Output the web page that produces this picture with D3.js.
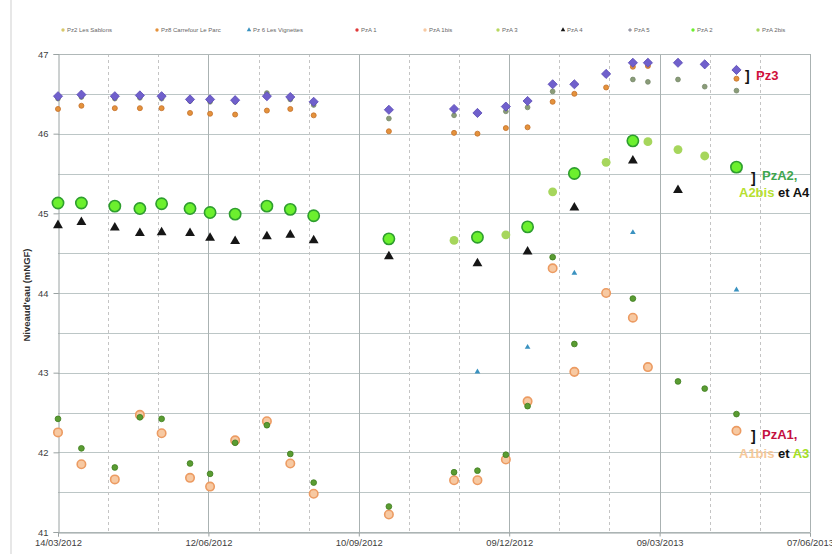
<!DOCTYPE html>
<html>
<head>
<meta charset="utf-8">
<script src="https://cdn.jsdelivr.net/npm/d3@7/dist/d3.min.js"></script>
<style>
  html, body { margin: 0; padding: 0; background: #fff; }
  svg { display: block; }
</style>
</head>
<body>
<div id="chart"></div>
<script>
// Survey dates (piezometer readings)
const surveyDates = [
  "2012-03-14", "2012-03-28", "2012-04-17", "2012-05-02", "2012-05-15", "2012-06-01",
  "2012-06-13", "2012-06-28", "2012-07-17", "2012-07-31", "2012-08-14",
  "2012-09-28", "2012-11-06", "2012-11-20", "2012-12-07", "2012-12-20",
  "2013-01-04", "2013-01-17", "2013-02-05", "2013-02-21", "2013-03-02",
  "2013-03-20", "2013-04-05", "2013-04-24"
];

// Water levels (m NGF), one value per survey date, null = no reading
const pz2LesSablons = [46.44, 46.46, 46.44, 46.45, 46.44, 46.41, 46.40, 46.40, 46.51, 46.43, 46.36,
  46.19, 46.23, null, 46.28, 46.33, 46.53, null, null, 46.68, 46.65, 46.68, 46.59, 46.54];
const pz8CarrefourLeParc = [46.31, 46.35, 46.32, 46.32, 46.32, 46.26, 46.25, 46.24, 46.29, 46.31, 46.23,
  46.03, 46.01, 46.00, 46.07, 46.08, 46.40, 46.50, 46.58, 46.84, 46.85, null, null, 46.69];
const pz6LesVignettes = [null, null, null, null, null, null, null, null, null, null, null,
  null, null, 43.01, null, 43.32, null, 44.25, null, 44.76, null, null, null, 44.04];
const pzA1 = [];
const pzA1bis = [42.25, 41.85, 41.66, 42.47, 42.24, 41.68, 41.57, 42.15, 42.39, 41.86, 41.48,
  41.22, 41.65, 41.65, 41.91, 42.64, 44.31, 43.01, 44.00, 43.69, 43.07, null, null, 42.27];
const pzA3 = [42.42, 42.05, 41.81, 42.44, 42.42, 41.86, 41.73, 42.12, 42.34, 41.98, 41.62,
  41.32, 41.75, 41.77, 41.97, 42.58, 44.45, 43.36, null, 43.93, null, 42.89, 42.80, 42.48];
const pzA4 = [44.85, 44.89, 44.82, 44.75, 44.76, 44.75, 44.69, 44.65, 44.71, 44.73, 44.66,
  44.46, null, 44.37, null, 44.52, null, 45.07, null, 45.66, null, 45.29, null, 45.55];
const pzA5 = [46.47, 46.49, 46.47, 46.48, 46.47, 46.43, 46.43, 46.42, 46.47, 46.46, 46.40,
  46.30, 46.31, 46.26, 46.34, 46.41, 46.62, 46.62, 46.75, 46.89, 46.89, 46.89, 46.87, 46.80];
const pzA2 = [45.13, 45.13, 45.09, 45.06, 45.12, 45.06, 45.01, 44.99, 45.09, 45.05, 44.97,
  44.68, null, 44.70, null, 44.83, null, 45.50, null, 45.91, null, null, null, 45.58];
const pzA2bis = [null, null, null, null, null, null, null, null, null, null, null,
  null, 44.66, null, 44.73, null, 45.27, null, 45.64, null, 45.90, 45.80, 45.72, null];

// Axis settings
const xStart = "2012-03-14";
const xEnd = "2013-06-07";
const yTicks = [41, 42, 43, 44, 45, 46, 47];

const W = 832, H = 554;
const plot = { left: 58, right: 810, top: 54, bottom: 532 };
const parse = d3.timeParse("%Y-%m-%d");
const fmt = d3.timeFormat("%d/%m/%Y");
const dates = surveyDates.map(parse);

const x = d3.scaleTime().domain([parse(xStart), parse(xEnd)]).range([plot.left, plot.right]);
const y = d3.scaleLinear().domain([41, 47]).range([plot.bottom, plot.top]);

const svg = d3.select("#chart").append("svg").attr("width", W).attr("height", H);
const FONT = "'Liberation Sans', Arial, sans-serif";

// Chart frame edge
svg.append("line").attr("x1", 11).attr("x2", 11).attr("y1", 0).attr("y2", H)
  .attr("stroke", "#cfcfcf").attr("stroke-width", 1);

// Gridlines
const grid = svg.append("g");
const halfSteps = d3.range(41, 47.01, 0.5);
grid.selectAll("line.h").data(halfSteps).join("line")
  .attr("x1", plot.left).attr("x2", plot.right)
  .attr("y1", d => Math.round(y(d)) + 0.5).attr("y2", d => Math.round(y(d)) + 0.5)
  .attr("stroke", "#bcc6c6").attr("stroke-width", 1);

const start = parse(xStart);
const minorDays = d3.range(30, 450, 30).filter(d => d % 90 !== 0).map(d => d3.timeDay.offset(start, d));
const majorDays = d3.range(0, 451, 90).map(d => d3.timeDay.offset(start, d));

grid.selectAll("line.vmin").data(minorDays).join("line")
  .attr("x1", d => Math.round(x(d)) + 0.5).attr("x2", d => Math.round(x(d)) + 0.5)
  .attr("y1", plot.top).attr("y2", plot.bottom)
  .attr("stroke", "#c4c4c4").attr("stroke-width", 1).attr("stroke-dasharray", "3,3");
grid.selectAll("line.vmaj").data(majorDays.slice(1)).join("line")
  .attr("x1", d => Math.round(x(d)) + 0.5).attr("x2", d => Math.round(x(d)) + 0.5)
  .attr("y1", plot.top).attr("y2", plot.bottom)
  .attr("stroke", "#aab2b2").attr("stroke-width", 1);

// Plot border top
svg.append("line").attr("x1", plot.left).attr("x2", plot.right)
  .attr("y1", plot.top + 0.5).attr("y2", plot.top + 0.5).attr("stroke", "#b0b8b8");

// Axes
const yAxis = d3.axisLeft(y).tickValues(yTicks).tickFormat(d3.format("d")).tickSize(5).tickPadding(5);
const gy = svg.append("g").attr("transform", `translate(${plot.left + 0.5},0)`).call(yAxis);
const xAxis = d3.axisBottom(x).tickValues(majorDays).tickFormat(fmt).tickSize(4).tickPadding(3);
const gx = svg.append("g").attr("transform", `translate(0,${plot.bottom + 0.5})`).call(xAxis);
[gx, gy].forEach(g => {
  g.select(".domain").attr("stroke", "#9aa2a2");
  g.selectAll(".tick line").attr("stroke", "#9aa2a2");
  g.selectAll(".tick text").attr("fill", "#404040").style("font-family", FONT).style("font-size", "9.4px");
});

// Y axis title
svg.append("text")
  .attr("transform", `translate(30,${(plot.top + plot.bottom) / 2 + 2}) rotate(-90)`)
  .attr("text-anchor", "middle")
  .style("font-family", FONT).style("font-size", "9.5px").style("font-weight", "bold")
  .attr("fill", "#303030")
  .text("Niveaud'eau (mNGF)");

// Square diamond marker (a square turned 45 degrees)
const squareDiamond = {
  draw(ctx, size) {
    const r = Math.sqrt(size / 2);
    ctx.moveTo(0, -r); ctx.lineTo(r, 0); ctx.lineTo(0, r); ctx.lineTo(-r, 0); ctx.closePath();
  }
};

// Series definitions
const series = [
  { name: "Pz2 Les Sablons", values: pz2LesSablons, shape: d3.symbolCircle, size: 18, fill: "#8a9c78", stroke: "#76886a", legendX: 63, legendFill: "#d8c86a" },
  { name: "Pz8 Carrefour Le Parc", values: pz8CarrefourLeParc, shape: d3.symbolCircle, size: 20, fill: "#e4923c", stroke: "#c4702a", legendX: 157 },
  { name: "Pz 6 Les Vignettes", values: pz6LesVignettes, shape: d3.symbolTriangle, size: 14, fill: "#3a92c0", stroke: "none", legendX: 249 },
  { name: "PzA 1", values: pzA1, shape: d3.symbolCircle, size: 14, fill: "#e03a3a", stroke: "none", legendX: 357 },
  { name: "PzA 1bis", values: pzA1bis, shape: d3.symbolCircle, size: 56, fill: "#f7c9a2", stroke: "#ec9b62", sw: 1.6, legendX: 425 },
  { name: "PzA 3", values: pzA3, shape: d3.symbolCircle, size: 26, fill: "#5a9c32", stroke: "#3e7c1e", legendX: 498, legendFill: "#b8d860" },
  { name: "PzA 4", values: pzA4, shape: d3.symbolTriangle, size: 42, fill: "#161616", stroke: "none", legendX: 563 },
  { name: "PzA 5", values: pzA5, shape: squareDiamond, size: 42, fill: "#7060cc", stroke: "#5848b4", legendX: 630, legendFill: "#9a9aa8" },
  { name: "PzA 2", values: pzA2, shape: d3.symbolCircle, size: 100, fill: "#6cf02e", stroke: "#2e9e2e", sw: 1.6, legendX: 693 },
  { name: "PzA 2bis", values: pzA2bis, shape: d3.symbolCircle, size: 62, fill: "#a6d65c", stroke: "none", legendX: 758 }
];

// Drawing order: first drawn lies underneath
const drawOrder = ["Pz 6 Les Vignettes", "PzA 1bis", "PzA 3", "PzA 4", "PzA 2bis", "PzA 2",
  "PzA 1", "Pz2 Les Sablons", "Pz8 Carrefour Le Parc", "PzA 5"];

const marks = svg.append("g");
drawOrder.forEach(n => {
  const s = series.find(d => d.name === n);
  const pts = s.values.map((v, i) => ({ date: dates[i], value: v })).filter(p => p.value != null);
  marks.append("g").selectAll("path").data(pts).join("path")
    .attr("d", d3.symbol().type(s.shape).size(s.size))
    .attr("transform", d => `translate(${x(d.date)},${y(d.value)})`)
    .attr("fill", s.fill)
    .attr("stroke", s.stroke)
    .attr("stroke-width", s.sw || 0.8);
});

// Legend
const legend = svg.append("g");
series.forEach(s => {
  legend.append("path")
    .attr("d", d3.symbol().type(s.shape).size(9))
    .attr("transform", `translate(${s.legendX},30)`)
    .attr("fill", s.legendFill || s.fill);
  legend.append("text")
    .attr("x", s.legendX + 4).attr("y", 32)
    .style("font-family", FONT).style("font-size", "6px")
    .attr("fill", "#666")
    .text(s.name);
});

// Group annotations
function note(xp, yp, parts, size) {
  const t = svg.append("text").attr("x", xp).attr("y", yp)
    .style("font-family", FONT).style("font-size", size + "px").style("font-weight", "bold");
  parts.forEach(p => t.append("tspan").attr("fill", p[1]).text(p[0]));
}
note(745, 81, [["]", "#111"]], 14);
note(756, 80, [["Pz3", "#d0103c"]], 13);
note(751, 183, [["]", "#111"]], 14);
note(762, 180, [["PzA2,", "#3fa64e"]], 13);
note(739, 197, [["A2bis", "#b6e030"], [" et A4", "#111"]], 13);
note(751, 441, [["]", "#111"]], 14);
note(762, 439, [["PzA1,", "#c41040"]], 13);
note(739, 458, [["A1bis", "#f6c89a"], [" et ", "#111"], ["A3", "#a4e024"]], 13);
</script>
</body>
</html>
